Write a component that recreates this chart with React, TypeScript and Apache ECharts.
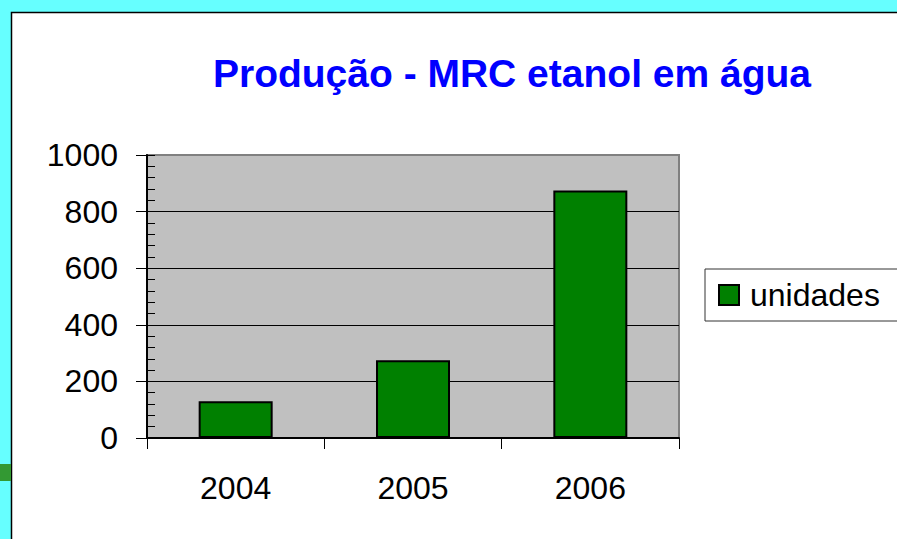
import React, { useEffect, useRef } from "react";
import * as echarts from "echarts";

const categories = ["2004", "2005", "2006"];
const seriesName = "unidades";
const values = [130, 275, 875];
const yTicks = [0, 200, 400, 600, 800, 1000];
const titleText = "Produção - MRC etanol em água";

const FONT = "'Liberation Sans', Arial, sans-serif";

export default function App() {
  const ref = useRef<HTMLDivElement>(null);
  useEffect(() => {
    if (!ref.current) return;
    const chart = echarts.init(ref.current, undefined, { renderer: "svg" });
    const yMin = yTicks[0];
    const yMax = yTicks[yTicks.length - 1];
    const yInterval = yTicks[1] - yTicks[0];
    chart.setOption({
      animation: false,
      backgroundColor: "#66FFFF",
      textStyle: { fontFamily: FONT },
      graphic: [
        {
          type: "rect",
          z: -5,
          shape: { x: 11.5, y: 12.5, width: 900, height: 540 },
          style: { fill: "#FFFFFF", stroke: "#000000", lineWidth: 1.5 },
        },
        {
          type: "rect",
          z: -4,
          shape: { x: 0, y: 464, width: 11, height: 17 },
          style: { fill: "#339933" },
        },
        {
          type: "text",
          z: 10,
          x: 512,
          y: 73,
          style: {
            text: titleText,
            fill: "#0000FF",
            font: `bold 39px ${FONT}`,
            textAlign: "center",
            textVerticalAlign: "middle",
          },
        },
      ],
      grid: {
        left: 147,
        top: 155,
        right: 218,
        bottom: 101,
        show: true,
        backgroundColor: "#C0C0C0",
        borderColor: "#808080",
        borderWidth: 2,
      },
      legend: {
        data: [seriesName],
        left: 705,
        top: 269,
        padding: [10, 40, 10, 13],
        borderColor: "#333333",
        borderWidth: 1,
        backgroundColor: "#FFFFFF",
        icon: "rect",
        itemWidth: 20,
        itemHeight: 20,
        itemStyle: { borderColor: "#000000", borderWidth: 2 },
        textStyle: { fontSize: 32, color: "#000000", fontFamily: FONT, padding: [0, 0, 0, 6] },
      },
      xAxis: {
        type: "category",
        data: categories,
        axisLine: { show: true, lineStyle: { color: "#000000", width: 2 } },
        axisTick: { show: true, length: 11, lineStyle: { color: "#000000", width: 1 } },
        axisLabel: { fontSize: 32, color: "#000000", margin: 34, fontFamily: FONT },
        splitLine: { show: false },
      },
      yAxis: [
        {
          type: "value",
          min: yMin,
          max: yMax,
          interval: yInterval,
          position: "left",
          axisLine: { show: true, lineStyle: { color: "#000000", width: 2 } },
          axisTick: { show: true, length: 11, lineStyle: { color: "#000000", width: 1 } },
          axisLabel: {
            fontSize: 32,
            color: "#000000",
            margin: 29,
            fontFamily: FONT,
            formatter: (v: number) => String(v),
          },
          splitLine: {
            show: true,
            lineStyle: {
              color: ["#000000", "#000000", "#000000", "#000000", "#000000", "#808080"],
              width: 1,
            },
          },
        },
        {
          type: "value",
          min: yMin,
          max: yMax,
          interval: yInterval,
          position: "left",
          axisLine: { show: false },
          axisTick: { show: true, inside: true, length: 8, lineStyle: { color: "#000000", width: 1 } },
          minorTick: { show: true, splitNumber: 5, length: 8, lineStyle: { color: "#000000", width: 1 } },
          axisLabel: { show: false },
          splitLine: { show: false },
        },
      ],
      series: [
        {
          name: seriesName,
          type: "bar",
          data: values,
          barWidth: 74,
          itemStyle: { color: "#008000", borderColor: "#000000", borderWidth: 2 },
        },
      ],
    });
    return () => chart.dispose();
  }, []);
  return (
    <div
      ref={ref}
      style={{ position: "absolute", left: 0, top: 0, width: 897, height: 539 }}
    />
  );
}
